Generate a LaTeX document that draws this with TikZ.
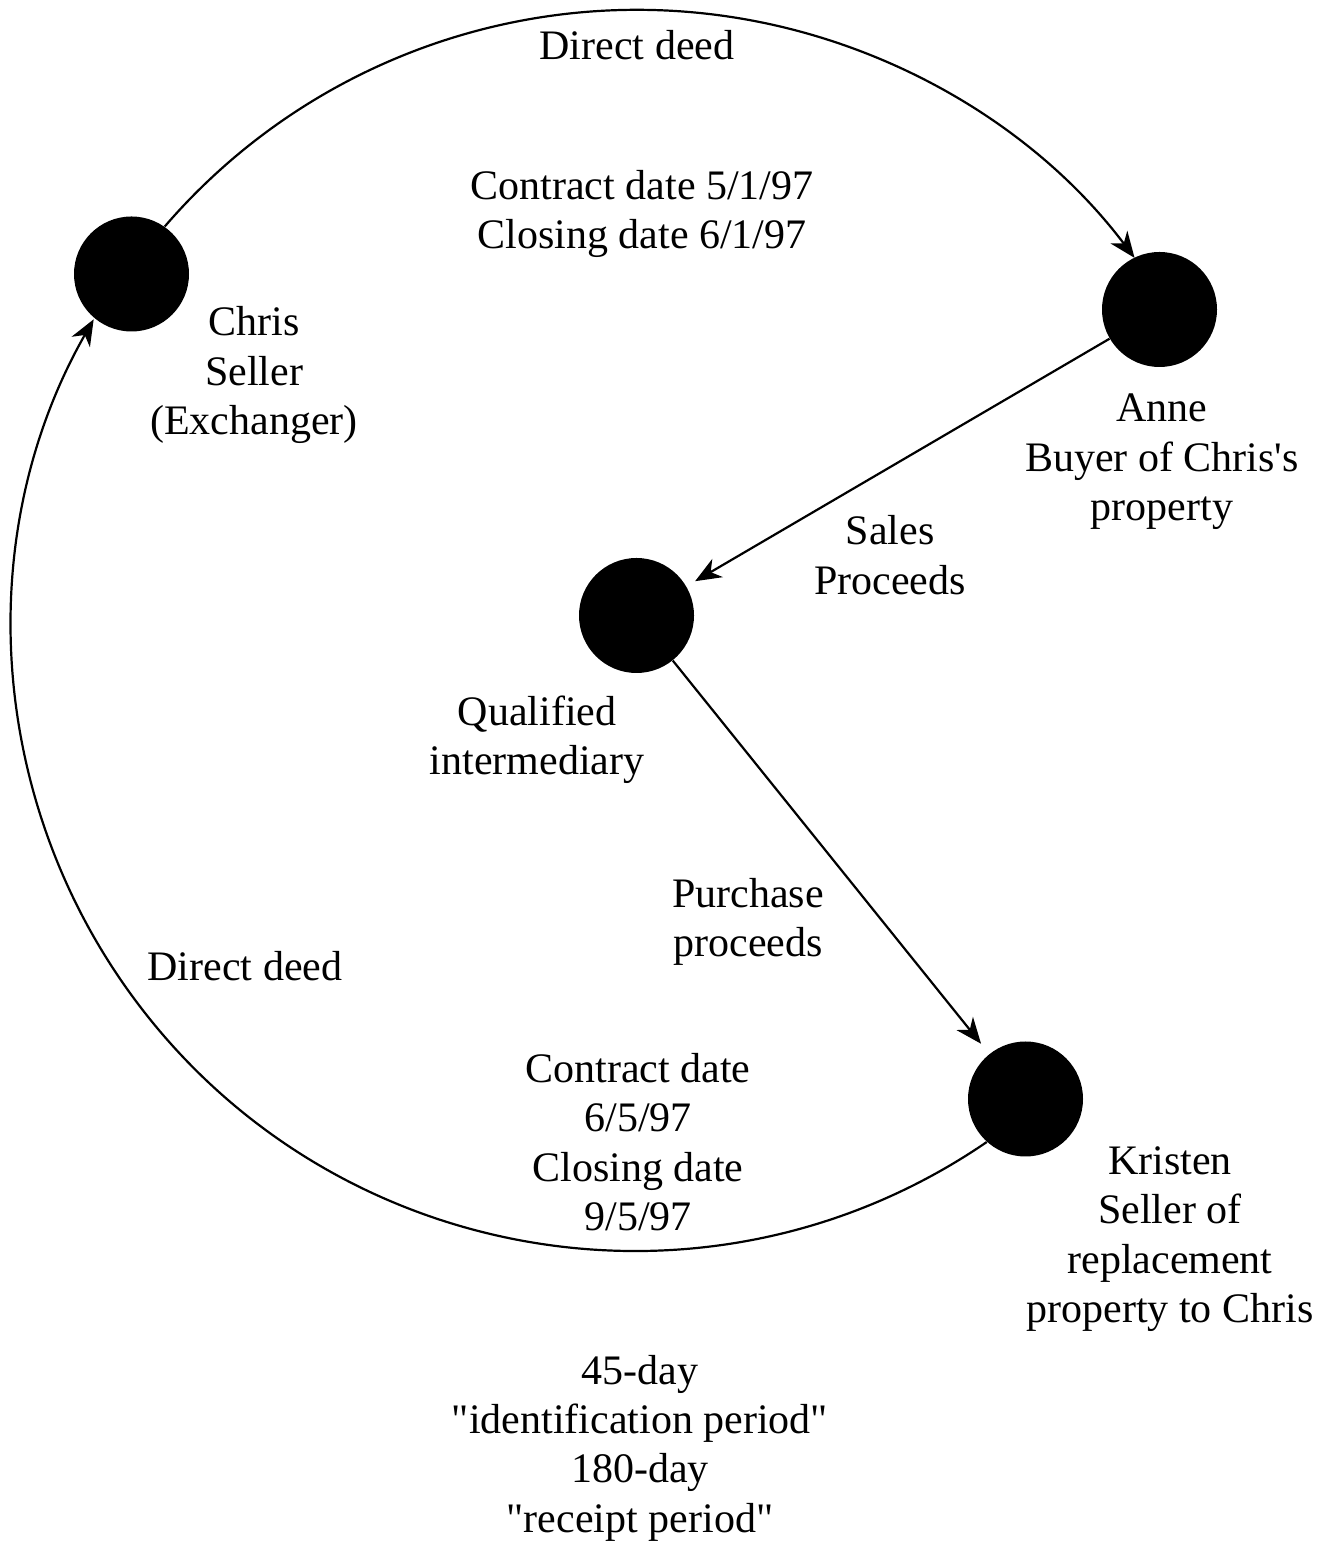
\documentclass[tikz,border=0pt]{standalone}
\usepackage{fontspec}
\setmainfont{Liberation Serif}[Ligatures=TeXOff]
\usetikzlibrary{arrows.meta}
\begin{document}
\begin{tikzpicture}[x=0.5pt,y=0.5pt,
  dot/.style={circle,fill=black,draw=none,minimum size=57.5pt,inner sep=0pt},
  lbl/.style={align=center,inner sep=0pt,font=\fontsize{21}{24.7}\selectfont},
  arr/.style={line width=1.1pt,-{Stealth[length=13pt,width=10.5pt,inset=4pt]}}]
\useasboundingbox (0,0) rectangle (1319,1543);
% participants
\node[dot] (chris)   at (131.5,1269) {};
\node[dot] (anne)    at (1159.5,1233.5) {};
\node[dot] (qi)      at (636.5,927.5) {};
\node[dot] (kristen) at (1025.5,444) {};
% labels
\node[lbl] (ddtop)    at (637,1498) {Direct deed};
\node[lbl] (dates1)   at (642,1329) {Contract date 5/1/97\\Closing date 6/1/97};
\node[lbl] (chrisL)   at (254,1168) {Chris\\Seller\\(Exchanger)};
\node[lbl] (anneL)    at (1162,1081) {Anne\\Buyer of Chris's\\property};
\node[lbl] (sales)    at (890,988) {Sales\\Proceeds};
\node[lbl] (qiL)      at (537,803) {Qualified\\intermediary};
\node[lbl] (purchase) at (748,621) {Purchase\\proceeds};
\node[lbl] (ddleft)   at (245,577) {Direct deed};
\node[lbl] (dates2)   at (638,401) {Contract date\\6/5/97\\Closing date\\9/5/97};
\node[lbl] (kristenL) at (1170,304) {Kristen\\Seller of\\replacement\\property to Chris};
\node[lbl] (periods)  at (640,95) {45-day\\"identification period"\\180-day\\"receipt period"};
% connectors
\draw[arr] (chris.55.6) arc[start angle=139.3,end angle=37.0,radius=311.5pt];
\draw[arr,shorten >=5pt] (anne) -- (qi);
\draw[arr,shorten >=6.5pt] (qi) -- (kristen);
\draw[arr] (kristen.228.8) arc[start angle=-55.6,end angle=-209.7,radius=311.5pt];
\end{tikzpicture}
\end{document}
